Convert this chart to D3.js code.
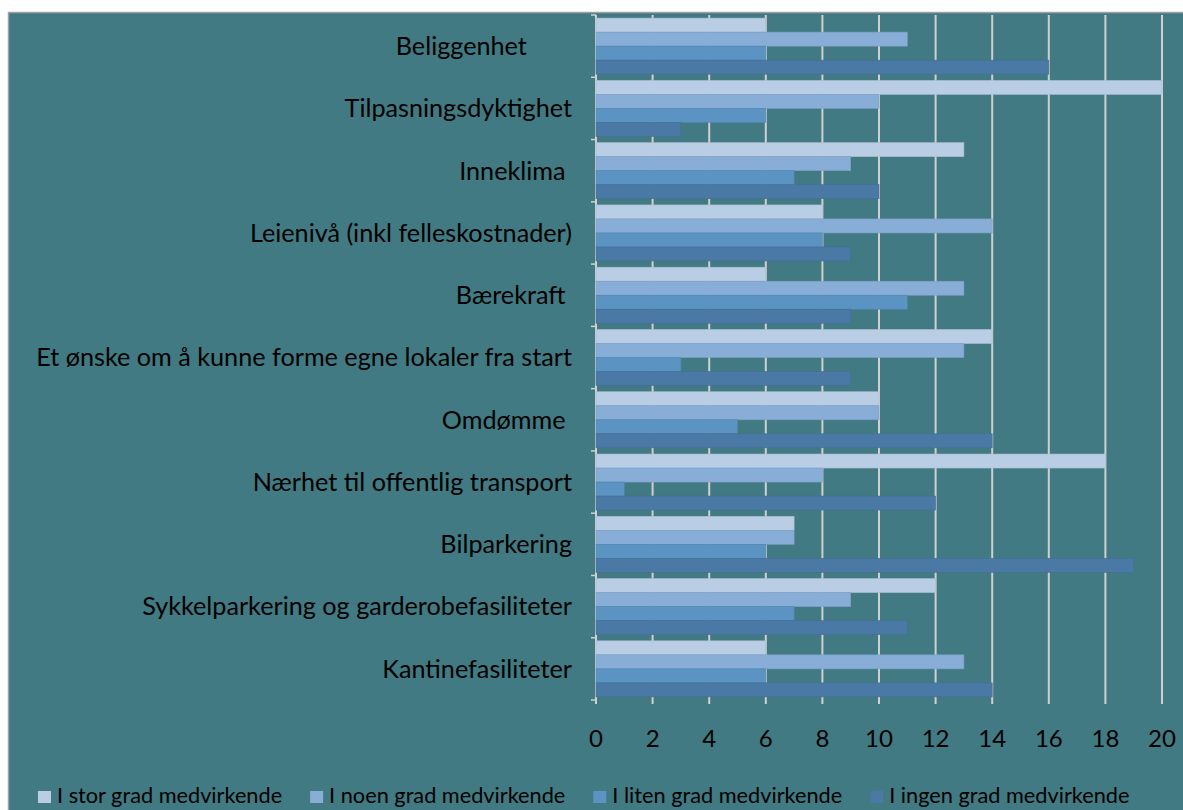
<!DOCTYPE html>
<html>
<head>
<meta charset="utf-8">
<script src="https://cdn.jsdelivr.net/npm/d3@7"></script>
<style>
  html, body { margin: 0; padding: 0; background: #ffffff; }
  svg { display: block; }
  text { font-family: Lato, "Open Sans", sans-serif; fill: #000; }
</style>
</head>
<body>
<svg id="chart" width="1183" height="810"></svg>
<script>
const categories = [
  "Beliggenhet       ",
  "Tilpasningsdyktighet",
  "Inneklima ",
  "Leienivå (inkl felleskostnader)",
  "Bærekraft ",
  "Et ønske om å kunne forme egne lokaler fra start",
  "Omdømme ",
  "Nærhet til offentlig transport",
  "Bilparkering",
  "Sykkelparkering og garderobefasiliteter",
  "Kantinefasiliteter"
];
const seriesNames = [
  "I stor grad medvirkende",
  "I noen grad medvirkende",
  "I liten grad medvirkende",
  "I ingen grad medvirkende"
];
const storGrad  = [6, 20, 13, 8, 6, 14, 10, 18, 7, 12, 6];
const noenGrad  = [11, 10, 9, 14, 13, 13, 10, 8, 7, 9, 13];
const litenGrad = [6, 6, 7, 8, 11, 3, 5, 1, 6, 7, 6];
const ingenGrad = [16, 3, 10, 9, 9, 9, 14, 12, 19, 11, 14];
const xTicks = [0, 2, 4, 6, 8, 10, 12, 14, 16, 18, 20];

(function() {
const seriesValues = [storGrad, noenGrad, litenGrad, ingenGrad];
const colors = ["#B9CDE5", "#88AED8", "#5B93C2", "#4A79A5"];

const svg = d3.select("#chart");
svg.append("rect").attr("x", 8.5).attr("y", 12.5).attr("width", 1180).attr("height", 800)
  .attr("fill", "#417A82").attr("stroke", "#A0A0A0").attr("stroke-width", 1.5);

const pLeft = 596, pRight = 1162, pTop = 15, pBottom = 700;
const x = d3.scaleLinear().domain([0, 20]).range([pLeft, pRight]);
const y = d3.scaleBand().domain(categories).range([pTop, pBottom]).paddingInner(0.1).paddingOuter(0.05);
const ys = d3.scaleBand().domain(seriesNames).range([0, y.bandwidth()]).padding(0);

svg.append("g").selectAll("line").data(xTicks).join("line")
  .attr("x1", d => x(d)).attr("x2", d => x(d))
  .attr("y1", pTop).attr("y2", pBottom + 4)
  .attr("stroke", "#D0D0D0").attr("stroke-width", 2);

const bounds = categories.map((c, i) => pTop + i * y.step()).concat([pBottom]);
svg.append("g").selectAll("line").data(bounds).join("line")
  .attr("x1", pLeft - 5).attr("x2", pLeft)
  .attr("y1", d => d).attr("y2", d => d)
  .attr("stroke", "#D0D0D0").attr("stroke-width", 1.5);

const groups = svg.append("g").selectAll("g").data(categories).join("g")
  .attr("transform", d => `translate(0,${y(d)})`);
groups.selectAll("rect")
  .data((c, i) => seriesNames.map((s, j) => ({ s, j, v: seriesValues[j][i] })))
  .join("rect")
  .attr("x", x(0))
  .attr("y", d => ys(d.s))
  .attr("width", d => x(d.v) - x(0))
  .attr("height", ys.bandwidth())
  .attr("fill", d => colors[d.j])
  .attr("stroke", d => d3.color(colors[d.j]).darker(0.25))
  .attr("stroke-width", 0.6);

const catLabels = svg.append("g").selectAll("text").data(categories).join("text")
  .attr("x", 572)
  .attr("y", d => y(d) + y.bandwidth() / 2)
  .attr("dy", "0.35em")
  .attr("text-anchor", "end")
  .style("white-space", "pre")
  .attr("font-size", 20)
  .text(d => d);
let maxW = 0;
catLabels.each(function() { maxW = Math.max(maxW, this.getComputedTextLength()); });
catLabels.attr("font-size", 20 * 536 / maxW);

svg.append("g").selectAll("text").data(xTicks).join("text")
  .attr("x", d => x(d)).attr("y", 747)
  .attr("text-anchor", "middle").attr("font-size", 24)
  .text(d => d);

const legend = svg.append("g");
let lx = 38;
const probe = legend.append("text").attr("font-size", 18).text(seriesNames[2]);
const legSize = 18 * 230 / probe.node().getComputedTextLength();
probe.remove();
seriesNames.forEach((s, j) => {
  legend.append("rect").attr("x", lx).attr("y", 791).attr("width", 13).attr("height", 12)
    .attr("fill", colors[j]);
  const t = legend.append("text").attr("x", lx + 19).attr("y", 803)
    .attr("font-size", legSize).text(s);
  lx = lx + 19 + t.node().getComputedTextLength() + 28;
});
})();
</script>
</body>
</html>
